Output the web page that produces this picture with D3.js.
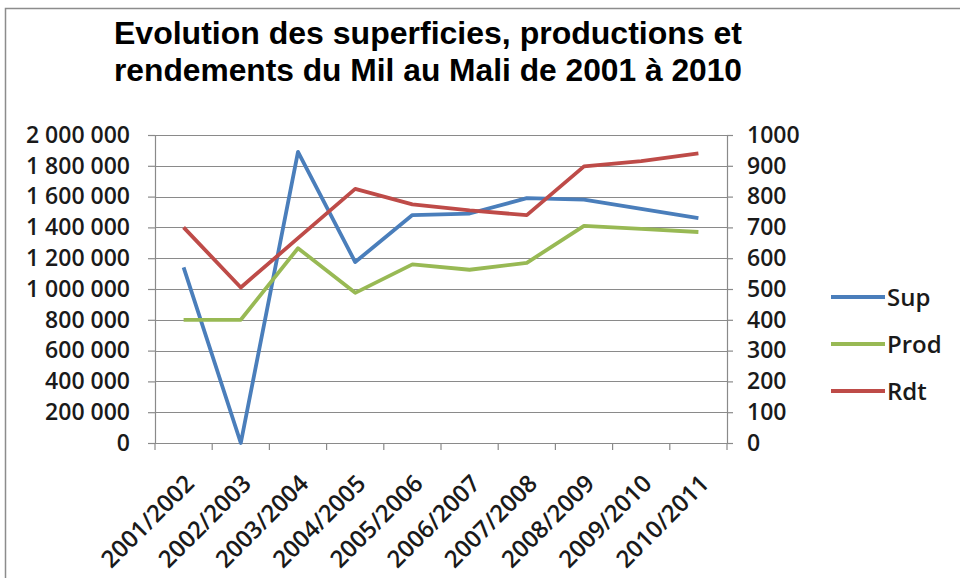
<!DOCTYPE html>
<html>
<head>
<meta charset="utf-8">
<script src="https://cdn.jsdelivr.net/npm/d3@7"></script>
<style>
  body { margin: 0; background: #fff; }
  svg { display: block; }
</style>
</head>
<body>
<div class="root"></div>
<script>
var years = ['2001/2002', '2002/2003', '2003/2004', '2004/2005', '2005/2006',
             '2006/2007', '2007/2008', '2008/2009', '2009/2010', '2010/2011'];
var sup  = [1140000, 0, 1890000, 1175000, 1480000, 1490000, 1590000, 1580000, 1520000, 1460000];
var prod = [800000, 800000, 1265000, 975000, 1160000, 1125000, 1170000, 1410000, 1390000, 1370000];
var rdt  = [700, 505, 665, 825, 775, 755, 740, 898, 915, 940];
var leftTicks = [0, 200000, 400000, 600000, 800000, 1000000, 1200000, 1400000, 1600000, 1800000, 2000000];
var rightTicks = [0, 100, 200, 300, 400, 500, 600, 700, 800, 900, 1000];

function drawChart() {
  var w = 960, h = 578;
  var left = 155, right = 727, top = 135, bottom = 443;

  var svg = d3.select('.root').append('svg')
    .attr('width', w)
    .attr('height', h);

  // chart frame
  svg.append('rect')
    .attr('x', 5.5).attr('y', 8.5)
    .attr('width', 970).attr('height', 600)
    .attr('fill', '#fff')
    .attr('stroke', '#8c8c8c')
    .attr('stroke-width', 1.5);

  var x = d3.scaleBand().domain(years).range([left, right]);
  var yL = d3.scaleLinear().domain([0, 2000000]).range([bottom, top]);
  var yR = d3.scaleLinear().domain([0, 1000]).range([bottom, top]);

  var fmt = function(d) { return d3.format(',')(d).replace(/,/g, ' '); };
  var labelFont = '"Open Sans", "Liberation Sans", sans-serif';

  // grid
  svg.append('g')
    .selectAll('line')
    .data(leftTicks)
    .enter().append('line')
      .attr('x1', left).attr('x2', right)
      .attr('y1', function(d) { return Math.round(yL(d)) + 0.5; })
      .attr('y2', function(d) { return Math.round(yL(d)) + 0.5; })
      .attr('stroke', '#8a8a8a')
      .attr('stroke-width', 1.2);

  var axL = svg.append('g')
    .attr('transform', 'translate(' + left + ',0)')
    .call(d3.axisLeft(yL).tickValues(leftTicks).tickFormat(fmt).tickSize(7).tickPadding(18));

  var axR = svg.append('g')
    .attr('transform', 'translate(' + right + ',0)')
    .call(d3.axisRight(yR).tickValues(rightTicks).tickFormat(d3.format('d')).tickSize(6).tickPadding(14));

  var axX = svg.append('g')
    .attr('transform', 'translate(0,' + bottom + ')')
    .call(d3.axisBottom(x).tickSize(0).tickFormat(''));

  // x tick marks at band boundaries
  var bounds = years.map(function(d) { return x(d); }).concat([right]);
  svg.append('g')
    .selectAll('line')
    .data(bounds)
    .enter().append('line')
      .attr('x1', function(d) { return d; })
      .attr('x2', function(d) { return d; })
      .attr('y1', bottom).attr('y2', bottom + 7)
      .attr('stroke', '#8a8a8a')
      .attr('stroke-width', 1.2);

  [axL, axR, axX].forEach(function(a) {
    a.selectAll('path, line').attr('stroke', '#8a8a8a').attr('stroke-width', 1.2);
    a.selectAll('text')
      .attr('font-family', labelFont)
      .attr('font-weight', 600)
      .attr('font-size', 23)
      .attr('fill', '#1a1a1a');
  });

  svg.append('g')
    .selectAll('text')
    .data(years)
    .enter().append('text')
      .attr('transform', function(d) {
        return 'translate(' + (x(d) + x.bandwidth() / 2 + 12) + ',' + (bottom + 42) + ') rotate(-45)';
      })
      .attr('text-anchor', 'end')
      .attr('font-family', labelFont)
      .attr('font-weight', 600)
      .attr('font-size', 24)
      .attr('fill', '#1a1a1a')
      .text(function(d) { return d; });

  var cx = function(d, i) { return x(years[i]) + x.bandwidth() / 2; };
  var series = [
    {name: 'Sup', values: sup, scale: yL, color: '#4a7ebb'},
    {name: 'Prod', values: prod, scale: yL, color: '#98b954'},
    {name: 'Rdt', values: rdt, scale: yR, color: '#be4b48'}
  ];

  series.forEach(function(s) {
    var line = d3.line()
      .x(cx)
      .y(function(d) { return s.scale(d); });
    svg.append('path')
      .datum(s.values)
      .attr('d', line)
      .attr('fill', 'none')
      .attr('stroke', s.color)
      .attr('stroke-width', 3.8)
      .attr('stroke-linejoin', 'round');
  });

  // legend
  var legend = svg.append('g')
    .selectAll('g')
    .data(series)
    .enter().append('g')
      .attr('transform', function(d, i) { return 'translate(831,' + (297 + i * 47) + ')'; });
  legend.append('line')
    .attr('x1', 0).attr('x2', 54)
    .attr('stroke', function(d) { return d.color; })
    .attr('stroke-width', 4);
  legend.append('text')
    .attr('x', 56).attr('dy', '0.36em')
    .attr('font-family', labelFont)
    .attr('font-weight', 600)
    .attr('font-size', 24)
    .attr('fill', '#1a1a1a')
    .text(function(d) { return d.name; });

  // title: narrow bold face, squeezed to the reference width
  var title = svg.append('text')
    .attr('text-anchor', 'middle')
    .attr('font-family', '"Liberation Sans Narrow", "Arial Narrow", "Liberation Sans", sans-serif')
    .attr('font-weight', 'bold')
    .attr('font-size', 32)
    .attr('fill', '#000');
  title.append('tspan').attr('x', 428).attr('y', 44)
    .attr('textLength', 628).attr('lengthAdjust', 'spacingAndGlyphs')
    .text('Evolution des superficies, productions et');
  title.append('tspan').attr('x', 428).attr('y', 81)
    .attr('textLength', 628).attr('lengthAdjust', 'spacingAndGlyphs')
    .text('rendements du Mil au Mali de 2001 à 2010');
}

window.onload = function() {
  drawChart();
};
</script>
</body>
</html>
